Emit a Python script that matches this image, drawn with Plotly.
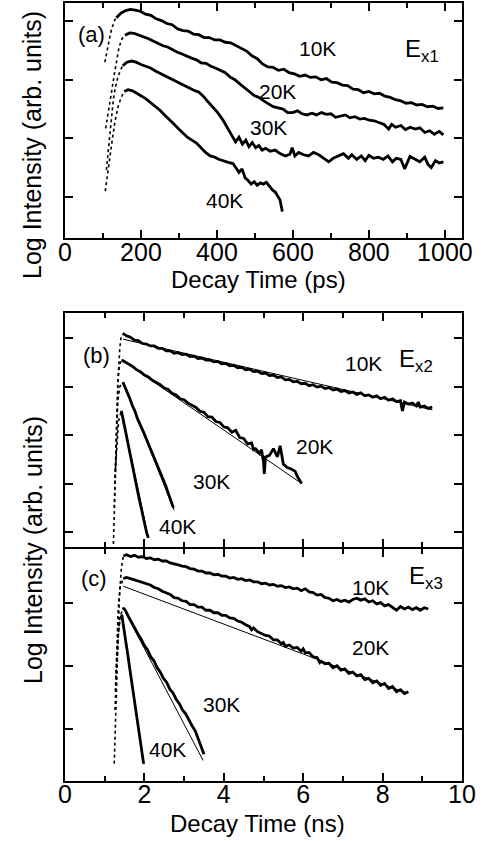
import plotly.graph_objects as go

# ---------------- panel (a): Ex1, decay time in ps ----------------
rise10_a_t = [105, 109, 113, 118, 122, 127, 131, 135]
rise10_a_v = [3.30, 3.45, 3.58, 3.73, 3.85, 3.96, 4.02, 4.06]
rise20_a_t = [107, 112, 118, 124, 130, 136, 142, 150, 158]
rise20_a_v = [2.17, 2.35, 2.60, 2.85, 3.10, 3.35, 3.55, 3.70, 3.76]
rise30_a_t = [109, 113, 118, 122, 127, 132, 138, 145, 152]
rise30_a_v = [1.46, 1.75, 2.10, 2.40, 2.65, 2.85, 3.02, 3.15, 3.24]
rise40_a_t = [106, 110, 115, 120, 126, 132, 140, 148, 156]
rise40_a_v = [1.10, 1.30, 1.55, 1.80, 2.05, 2.30, 2.55, 2.70, 2.80]

k10_a_t = [135, 148, 160, 172, 185, 198, 212, 226, 240, 254,
           268, 282, 296, 310, 324, 338, 352, 366, 380, 394,
           408, 422, 436, 450, 464, 478, 492, 506, 520, 534,
           548, 562, 576, 590, 604, 618, 632, 646, 660, 674,
           688, 702, 716, 730, 744, 758, 772, 786, 800, 814,
           828, 842, 856, 870, 884, 898, 912, 926, 940, 954,
           968, 982, 996]
k10_a_v = [4.06, 4.14, 4.18, 4.20, 4.19, 4.17, 4.12, 4.10, 4.04, 4.01,
           3.96, 3.94, 3.87, 3.84, 3.83, 3.78, 3.77, 3.72, 3.72, 3.68,
           3.68, 3.64, 3.63, 3.58, 3.54, 3.49, 3.41, 3.36, 3.27, 3.22,
           3.21, 3.16, 3.18, 3.12, 3.10, 3.06, 3.08, 3.04, 3.05, 3.00,
           3.02, 2.96, 2.95, 2.91, 2.90, 2.84, 2.83, 2.78, 2.80, 2.76,
           2.77, 2.72, 2.70, 2.66, 2.64, 2.60, 2.61, 2.57, 2.58, 2.54,
           2.55, 2.51, 2.52]

k20_a_t = [158, 170, 182, 195, 208, 220, 232, 245, 258, 270,
           283, 296, 308, 320, 333, 346, 358, 371, 384, 396,
           409, 422, 434, 447, 460, 472, 485, 498, 510, 523,
           536, 548, 561, 574, 586, 599, 612, 624, 637, 650,
           662, 675, 688, 700, 712, 725, 738, 750, 763, 776,
           788, 801, 814, 826, 839, 852, 860, 870, 884, 896,
           909, 922, 934, 947, 960, 972, 985, 996]
k20_a_v = [3.76, 3.80, 3.79, 3.76, 3.73, 3.70, 3.66, 3.62, 3.58, 3.56,
           3.51, 3.47, 3.44, 3.40, 3.37, 3.34, 3.29, 3.28, 3.23, 3.20,
           3.16, 3.12, 3.05, 3.00, 2.93, 2.86, 2.80, 2.73, 2.70, 2.64,
           2.58, 2.54, 2.52, 2.50, 2.44, 2.44, 2.47, 2.42, 2.40, 2.43,
           2.40, 2.44, 2.41, 2.42, 2.36, 2.38, 2.40, 2.35, 2.37, 2.33,
           2.34, 2.31, 2.30, 2.27, 2.24, 2.16, 2.24, 2.19, 2.22, 2.15,
           2.19, 2.16, 2.18, 2.10, 2.13, 2.07, 2.12, 2.06]

k30_a_t = [152, 163, 175, 187, 200, 212, 225, 238, 250, 263,
           276, 288, 301, 314, 326, 339, 352, 364, 377, 390,
           402, 415, 428, 441, 449, 458, 467, 476, 484, 493,
           502, 510, 519, 528, 540, 553, 566, 580, 592, 598,
           605, 615, 628, 641, 654, 668, 680, 694, 706, 720,
           733, 746, 755, 768, 780, 790, 800, 812, 825, 838,
           850, 862, 872, 884, 894, 908, 921, 934, 947, 955,
           964, 975, 985, 996]
k30_a_v = [3.24, 3.30, 3.32, 3.30, 3.26, 3.23, 3.20, 3.15, 3.11, 3.06,
           3.03, 2.98, 2.94, 2.90, 2.86, 2.82, 2.79, 2.72, 2.62, 2.52,
           2.44, 2.32, 2.18, 2.02, 1.94, 2.02, 1.90, 1.97, 1.86, 1.93,
           1.84, 1.88, 1.80, 1.83, 1.78, 1.80, 1.74, 1.70, 1.73, 1.84,
           1.70, 1.76, 1.72, 1.70, 1.76, 1.72, 1.66, 1.60, 1.66, 1.70,
           1.74, 1.66, 1.72, 1.64, 1.70, 1.62, 1.71, 1.66, 1.68, 1.64,
           1.70, 1.60, 1.66, 1.64, 1.48, 1.69, 1.64, 1.60, 1.68, 1.56,
           1.50, 1.62, 1.58, 1.60]

k40_a_t = [156, 166, 178, 190, 202, 214, 226, 238, 250, 262,
           274, 286, 298, 310, 322, 334, 346, 358, 370, 382,
           394, 406, 418, 430, 442, 450, 458, 466, 474, 482,
           490, 498, 506, 514, 522, 530, 538, 546, 554, 560,
           566, 572]
k40_a_v = [2.80, 2.83, 2.81, 2.77, 2.72, 2.67, 2.61, 2.55, 2.48, 2.40,
           2.33, 2.25, 2.17, 2.10, 2.02, 1.97, 1.92, 1.84, 1.76, 1.70,
           1.68, 1.64, 1.61, 1.59, 1.57, 1.50, 1.42, 1.48, 1.33, 1.28,
           1.22, 1.26, 1.20, 1.24, 1.22, 1.25, 1.18, 1.12, 1.08, 1.02,
           0.95, 0.75]

# ---------------- panel (b): Ex2, decay time in ns ----------------
rise10_b_t = [1.22, 1.25, 1.28, 1.31, 1.34, 1.38, 1.42]
rise10_b_v = [0.75, 1.60, 2.50, 3.40, 4.20, 4.80, 5.08]
rise20_b_t = [1.24, 1.27, 1.30, 1.33, 1.37, 1.43]
rise20_b_v = [1.50, 2.40, 3.30, 4.10, 4.45, 4.55]
rise30_b_t = [1.26, 1.29, 1.33, 1.38, 1.46]
rise30_b_v = [2.00, 2.90, 3.70, 4.00, 4.09]
rise40_b_t = [1.27, 1.31, 1.35, 1.42]
rise40_b_v = [2.30, 2.90, 3.30, 3.50]

k10_b_t = [1.45, 1.55, 1.65, 1.75, 1.85, 1.95, 2.05, 2.15, 2.25, 2.35,
           2.45, 2.55, 2.65, 2.75, 2.85, 2.95, 3.05, 3.15, 3.25, 3.35,
           3.45, 3.55, 3.65, 3.75, 3.85, 3.95, 4.05, 4.15, 4.25, 4.35,
           4.45, 4.55, 4.65, 4.75, 4.85, 4.95, 5.05, 5.15, 5.25, 5.35,
           5.45, 5.55, 5.65, 5.75, 5.85, 5.95, 6.05, 6.15, 6.25, 6.35,
           6.45, 6.55, 6.65, 6.75, 6.85, 6.95, 7.05, 7.15, 7.25, 7.35,
           7.45, 7.55, 7.65, 7.75, 7.85, 7.95, 8.05, 8.15, 8.25, 8.35,
           8.45, 8.50, 8.55, 8.65, 8.75, 8.85, 8.90, 8.95, 9.05, 9.15,
           9.25]
k10_b_v = [5.10, 5.05, 5.02, 4.96, 4.95, 4.89, 4.88, 4.84, 4.84, 4.79,
           4.79, 4.74, 4.74, 4.69, 4.70, 4.66, 4.67, 4.62, 4.63, 4.58,
           4.59, 4.55, 4.55, 4.51, 4.52, 4.47, 4.48, 4.43, 4.44, 4.39,
           4.40, 4.35, 4.36, 4.31, 4.32, 4.27, 4.28, 4.23, 4.24, 4.19,
           4.20, 4.14, 4.15, 4.10, 4.11, 4.06, 4.07, 4.02, 4.04, 3.99,
           4.01, 3.96, 3.98, 3.93, 3.95, 3.90, 3.92, 3.87, 3.89, 3.84,
           3.87, 3.81, 3.83, 3.78, 3.81, 3.75, 3.78, 3.72, 3.75, 3.69,
           3.71, 3.50, 3.68, 3.64, 3.66, 3.60, 3.68, 3.58, 3.60, 3.55,
           3.58]

k20_b_t = [1.43, 1.50, 1.60, 1.70, 1.80, 1.90, 2.00, 2.10, 2.20, 2.30,
           2.40, 2.50, 2.60, 2.70, 2.80, 2.90, 3.00, 3.10, 3.20, 3.30,
           3.40, 3.50, 3.60, 3.70, 3.80, 3.90, 4.00, 4.10, 4.20, 4.30,
           4.40, 4.50, 4.60, 4.70, 4.75, 4.80, 4.90, 4.95, 5.00, 5.02,
           5.05, 5.15, 5.25, 5.35, 5.42, 5.50, 5.60, 5.70, 5.80, 5.85,
           5.96]
k20_b_v = [4.55, 4.52, 4.46, 4.42, 4.35, 4.31, 4.24, 4.20, 4.13, 4.09,
           4.04, 3.97, 3.94, 3.86, 3.83, 3.75, 3.73, 3.66, 3.61, 3.57,
           3.49, 3.47, 3.38, 3.37, 3.28, 3.26, 3.17, 3.15, 3.06, 3.10,
           2.95, 2.93, 2.82, 2.84, 2.70, 2.72, 2.62, 2.70, 2.45, 2.20,
           2.55, 2.58, 2.72, 2.55, 2.78, 2.40, 2.33, 2.30, 2.25, 2.15,
           2.00]

k30_b_t = [1.46, 1.52, 1.58, 1.64, 1.70, 1.76, 1.82, 1.88, 1.94, 2.00,
           2.06, 2.12, 2.18, 2.24, 2.30, 2.36, 2.42, 2.48, 2.54, 2.60,
           2.66, 2.73]
k30_b_v = [4.09, 3.98, 3.85, 3.74, 3.60, 3.50, 3.35, 3.25, 3.12, 3.02,
           2.90, 2.78, 2.68, 2.55, 2.45, 2.30, 2.20, 2.05, 1.95, 1.80,
           1.68, 1.50]

k40_b_t = [1.42, 1.46, 1.50, 1.54, 1.58, 1.62, 1.66, 1.70, 1.74, 1.78,
           1.82, 1.86, 1.90, 1.94, 1.98, 2.02, 2.06, 2.10]
k40_b_v = [3.50, 3.36, 3.18, 3.02, 2.85, 2.70, 2.52, 2.37, 2.20, 2.05,
           1.88, 1.72, 1.57, 1.40, 1.25, 1.10, 0.97, 0.88]

fit10_b_t = [1.46, 9.25]
fit10_b_v = [4.98, 3.52]
fit20_b_t = [1.43, 5.96]
fit20_b_v = [4.55, 2.00]
fit30_b_t = [1.46, 2.75]
fit30_b_v = [4.09, 1.45]
fit40_b_t = [1.42, 2.10]
fit40_b_v = [3.50, 0.88]

# ---------------- panel (c): Ex3, decay time in ns ----------------
rise10_c_t = [1.24, 1.27, 1.30, 1.33, 1.37, 1.42, 1.47]
rise10_c_v = [0.45, 1.10, 1.80, 2.50, 3.10, 3.55, 3.74]
rise20_c_t = [1.27, 1.30, 1.34, 1.39, 1.47]
rise20_c_v = [1.60, 2.30, 2.90, 3.25, 3.38]
rise30_c_t = [1.26, 1.29, 1.33, 1.38, 1.46]
rise30_c_v = [1.30, 1.90, 2.40, 2.75, 2.92]
rise40_c_t = [1.28, 1.31, 1.35, 1.39, 1.43]
rise40_c_v = [1.80, 2.20, 2.55, 2.75, 2.81]

k10_c_t = [1.47, 1.55, 1.65, 1.75, 1.85, 1.95, 2.05, 2.15, 2.25, 2.35,
           2.45, 2.55, 2.65, 2.75, 2.85, 2.95, 3.05, 3.15, 3.25, 3.35,
           3.45, 3.55, 3.65, 3.75, 3.85, 3.95, 4.05, 4.15, 4.25, 4.35,
           4.45, 4.55, 4.65, 4.75, 4.85, 4.95, 5.05, 5.15, 5.25, 5.35,
           5.45, 5.55, 5.65, 5.75, 5.85, 5.95, 6.05, 6.15, 6.25, 6.35,
           6.45, 6.55, 6.65, 6.75, 6.85, 6.95, 7.05, 7.15, 7.25, 7.35,
           7.45, 7.55, 7.65, 7.75, 7.85, 7.95, 8.05, 8.15, 8.25, 8.35,
           8.45, 8.55, 8.65, 8.75, 8.85, 8.95, 9.05, 9.15]
k10_c_v = [3.74, 3.76, 3.73, 3.75, 3.72, 3.73, 3.70, 3.71, 3.68, 3.69,
           3.66, 3.66, 3.63, 3.62, 3.60, 3.58, 3.57, 3.54, 3.53, 3.50,
           3.50, 3.47, 3.47, 3.44, 3.45, 3.42, 3.42, 3.39, 3.40, 3.37,
           3.38, 3.35, 3.36, 3.33, 3.33, 3.30, 3.31, 3.28, 3.29, 3.26,
           3.27, 3.24, 3.25, 3.22, 3.23, 3.19, 3.22, 3.17, 3.16, 3.12,
           3.13, 3.08, 3.07, 3.03, 3.05, 3.02, 3.04, 3.01, 3.05, 3.07,
           3.04, 3.06, 3.01, 3.03, 2.98, 3.00, 2.95, 2.97, 2.92, 2.88,
           2.94, 2.90, 2.93, 2.89, 2.92, 2.88, 2.92, 2.90]

k20_c_t = [1.47, 1.55, 1.65, 1.75, 1.85, 1.95, 2.05, 2.15, 2.25, 2.35,
           2.45, 2.55, 2.65, 2.75, 2.85, 2.95, 3.05, 3.15, 3.25, 3.35,
           3.45, 3.55, 3.65, 3.75, 3.85, 3.95, 4.05, 4.15, 4.25, 4.35,
           4.45, 4.55, 4.65, 4.70, 4.75, 4.85, 4.95, 5.05, 5.15, 5.25,
           5.35, 5.45, 5.50, 5.55, 5.65, 5.75, 5.85, 5.95, 6.00, 6.05,
           6.15, 6.25, 6.35, 6.42, 6.45, 6.55, 6.65, 6.75, 6.85, 6.95,
           7.05, 7.15, 7.25, 7.35, 7.45, 7.55, 7.65, 7.75, 7.85, 7.95,
           8.05, 8.15, 8.25, 8.35, 8.45, 8.55, 8.65]
k20_c_v = [3.38, 3.40, 3.38, 3.36, 3.34, 3.32, 3.30, 3.28, 3.24, 3.22,
           3.18, 3.15, 3.13, 3.08, 3.07, 3.03, 3.02, 2.97, 2.97, 2.93,
           2.93, 2.88, 2.88, 2.84, 2.84, 2.80, 2.80, 2.76, 2.75, 2.71,
           2.69, 2.65, 2.62, 2.57, 2.60, 2.54, 2.51, 2.48, 2.47, 2.41,
           2.41, 2.35, 2.37, 2.31, 2.33, 2.28, 2.29, 2.23, 2.27, 2.21,
           2.21, 2.14, 2.13, 2.05, 2.07, 2.03, 2.04, 1.97, 2.00, 1.93,
           1.95, 1.88, 1.90, 1.84, 1.86, 1.78, 1.80, 1.73, 1.76, 1.69,
           1.72, 1.64, 1.67, 1.59, 1.62, 1.56, 1.59]

k30_c_t = [1.46, 1.52, 1.60, 1.68, 1.76, 1.84, 1.92, 2.00, 2.08, 2.16,
           2.24, 2.32, 2.40, 2.48, 2.56, 2.64, 2.72, 2.80, 2.88, 2.96,
           3.04, 3.12, 3.20, 3.28, 3.36, 3.44, 3.50]
k30_c_v = [2.92, 2.88, 2.78, 2.68, 2.60, 2.50, 2.42, 2.32, 2.25, 2.14,
           2.08, 1.97, 1.90, 1.80, 1.74, 1.63, 1.57, 1.47, 1.40, 1.30,
           1.24, 1.14, 1.05, 0.97, 0.85, 0.70, 0.60]

k40_c_t = [1.43, 1.47, 1.51, 1.55, 1.59, 1.63, 1.67, 1.71, 1.75, 1.79,
           1.83, 1.87, 1.91, 1.95, 1.98]
k40_c_v = [2.81, 2.66, 2.48, 2.31, 2.14, 1.96, 1.79, 1.62, 1.44, 1.27,
           1.10, 0.92, 0.75, 0.58, 0.45]

fit20_c_t = [1.47, 8.60]
fit20_c_v = [3.26, 1.57]
fit30_c_t = [1.46, 3.48]
fit30_c_v = [2.92, 0.50]
fit40_c_t = [1.43, 1.99]
fit40_c_v = [2.81, 0.44]

# tick values
ticks_a_x = [0, 200, 400, 600, 800, 1000]
ticks_ns_x = [0, 2, 4, 6, 8, 10]
ticks_a_y = [1, 2, 3, 4]
ticks_b_y = [1, 2, 3, 4, 5]
ticks_c_y = [1, 2, 3]

W, H = 483, 841
FONT = "Liberation Sans, Arial, sans-serif"

fig = go.Figure()


def data_line(t, v, xa, ya):
    fig.add_trace(go.Scatter(x=t, y=v, xaxis=xa, yaxis=ya, mode="lines",
                             line=dict(color="black", width=2.8),
                             showlegend=False, hoverinfo="skip"))


def rise_line(t, v, xa, ya):
    fig.add_trace(go.Scatter(x=t, y=v, xaxis=xa, yaxis=ya, mode="lines",
                             line=dict(color="black", width=1.6, dash="dot"),
                             showlegend=False, hoverinfo="skip"))


def fit_line(t, v, xa, ya):
    fig.add_trace(go.Scatter(x=t, y=v, xaxis=xa, yaxis=ya, mode="lines",
                             line=dict(color="black", width=1),
                             showlegend=False, hoverinfo="skip"))


for t, v in [(rise10_a_t, rise10_a_v), (rise20_a_t, rise20_a_v),
             (rise30_a_t, rise30_a_v), (rise40_a_t, rise40_a_v)]:
    rise_line(t, v, "x", "y")
for t, v in [(k10_a_t, k10_a_v), (k20_a_t, k20_a_v),
             (k30_a_t, k30_a_v), (k40_a_t, k40_a_v)]:
    data_line(t, v, "x", "y")

for t, v in [(rise10_b_t, rise10_b_v), (rise20_b_t, rise20_b_v),
             (rise30_b_t, rise30_b_v), (rise40_b_t, rise40_b_v)]:
    rise_line(t, v, "x2", "y2")
for t, v in [(k10_b_t, k10_b_v), (k20_b_t, k20_b_v),
             (k30_b_t, k30_b_v), (k40_b_t, k40_b_v)]:
    data_line(t, v, "x2", "y2")
for t, v in [(fit10_b_t, fit10_b_v), (fit20_b_t, fit20_b_v),
             (fit30_b_t, fit30_b_v), (fit40_b_t, fit40_b_v)]:
    fit_line(t, v, "x2", "y2")

for t, v in [(rise10_c_t, rise10_c_v), (rise20_c_t, rise20_c_v),
             (rise30_c_t, rise30_c_v), (rise40_c_t, rise40_c_v)]:
    rise_line(t, v, "x3", "y3")
for t, v in [(k10_c_t, k10_c_v), (k20_c_t, k20_c_v),
             (k30_c_t, k30_c_v), (k40_c_t, k40_c_v)]:
    data_line(t, v, "x3", "y3")
for t, v in [(fit20_c_t, fit20_c_v), (fit30_c_t, fit30_c_v),
             (fit40_c_t, fit40_c_v)]:
    fit_line(t, v, "x3", "y3")


def pxx(x):
    return x / W


def pxy(y):
    return 1 - y / H


left, right = pxx(65), pxx(462)
common = dict(showline=True, linecolor="black", linewidth=2, mirror="ticks",
              ticks="inside", ticklen=8, tickwidth=1.5, tickcolor="black",
              showgrid=False, zeroline=False, automargin=False,
              tickfont=dict(family=FONT, size=25, color="black"))
minor_ps = dict(dtick=100, tick0=0, ticklen=5, tickwidth=1.5,
                ticks="inside", tickcolor="black")
minor_ns = dict(dtick=1, tick0=0, ticklen=5, tickwidth=1.5,
                ticks="inside", tickcolor="black")

fig.update_layout(
    width=W, height=H, margin=dict(l=0, r=0, t=0, b=0),
    paper_bgcolor="white", plot_bgcolor="white", showlegend=False,
    xaxis=dict(domain=[left, right], anchor="y", range=[0, 1045],
               tickvals=ticks_a_x, minor=minor_ps, ticklabelstandoff=-9,
               **common),
    yaxis=dict(domain=[pxy(238), pxy(3)], anchor="x", range=[0.30, 4.31],
               tickvals=ticks_a_y, showticklabels=False, **common),
    xaxis2=dict(domain=[left, right], anchor="y2", range=[0, 10],
                tickvals=ticks_ns_x, showticklabels=False, minor=minor_ns,
                **common),
    yaxis2=dict(domain=[pxy(547), pxy(313)], anchor="x2", range=[0.69, 5.52],
                tickvals=ticks_b_y, showticklabels=False, **common),
    xaxis3=dict(domain=[left, right], anchor="y3", range=[0, 10],
                tickvals=ticks_ns_x, minor=minor_ns, ticklabelstandoff=-10,
                **common),
    yaxis3=dict(domain=[pxy(781), pxy(549)], anchor="x3", range=[0.175, 3.85],
                tickvals=ticks_c_y, showticklabels=False, **common),
)

labels = [
    ("(a)", 91, 34, 22), ("10K", 317, 49, 21), ("20K", 277, 91, 21),
    ("30K", 268, 128, 21), ("40K", 224, 201, 21),
    ("(b)", 96, 355, 22), ("10K", 363, 363, 21), ("20K", 314, 446, 21),
    ("30K", 211, 482, 21), ("40K", 177, 526, 21),
    ("(c)", 94, 578, 22), ("10K", 370, 587, 21), ("20K", 370, 647, 21),
    ("30K", 221, 704, 21), ("40K", 167, 749, 21),
]
for text, x, y, s in labels:
    fig.add_annotation(text=text, x=pxx(x), y=pxy(y), xref="paper", yref="paper",
                       showarrow=False, xanchor="center", yanchor="middle",
                       font=dict(family=FONT, size=s, color="black"))

for text, x, y in [("E<sub>x1</sub>", 422, 50), ("E<sub>x2</sub>", 416, 360),
                   ("E<sub>x3</sub>", 426, 577)]:
    fig.add_annotation(text=text, x=pxx(x), y=pxy(y), xref="paper", yref="paper",
                       showarrow=False, xanchor="center", yanchor="middle",
                       font=dict(family=FONT, size=24, color="black"))

for text, x, y in [("Decay Time (ps)", 258, 279), ("Decay Time (ns)", 257, 823)]:
    fig.add_annotation(text=text, x=pxx(x), y=pxy(y), xref="paper", yref="paper",
                       showarrow=False, xanchor="center", yanchor="middle",
                       font=dict(family=FONT, size=24, color="black"))

for x, y in [(32, 145), (33, 550)]:
    fig.add_annotation(text="Log Intensity (arb. units)", x=pxx(x), y=pxy(y),
                       xref="paper", yref="paper", textangle=-90,
                       showarrow=False, xanchor="center", yanchor="middle",
                       font=dict(family=FONT, size=25, color="black"))

fig.write_html("out.html", config={"displayModeBar": False},
               post_script="document.body.style.margin='0px';"
                           "document.body.style.overflow='hidden';")
